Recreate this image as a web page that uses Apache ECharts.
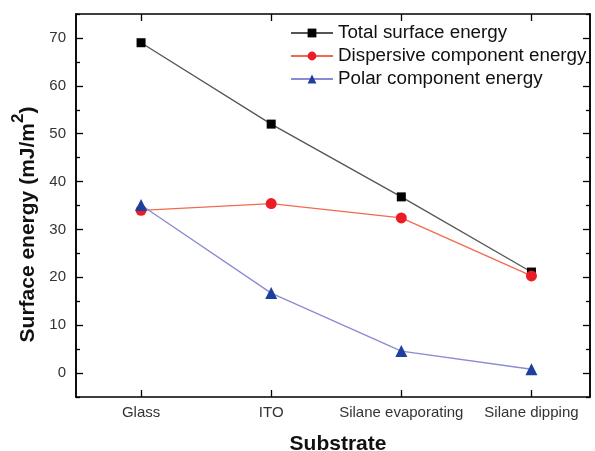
<!DOCTYPE html>
<html><head><meta charset="utf-8">
<script src="https://cdn.jsdelivr.net/npm/echarts@6/dist/echarts.min.js"></script>
<style>html,body{margin:0;padding:0;background:#fff}#c{width:595px;height:451px}</style>
</head><body><div id="c"></div>
<script>
var categories = ['Glass', 'ITO', 'Silane evaporating', 'Silane dipping'];
var totalEnergy = [69, 52, 36.8, 21.1];
var dispersiveEnergy = [34, 35.4, 32.4, 20.3];
var polarEnergy = [35.1, 16.7, 4.6, 0.8];
var yMajorTicks = [0, 10, 20, 30, 40, 50, 60, 70];
var yMinorTicks = [-5, 5, 15, 25, 35, 45, 55, 65, 75];
var seriesNames = ['Total surface energy', 'Dispersive component energy', 'Polar component energy'];

var catPos = categories.map(function (c, i) { return i + 1; });
function pairs(vals) { return vals.map(function (v, i) { return [catPos[i], v]; }); }

var font = 'Liberation Sans, Arial, sans-serif';
var axisLineStyle = { color: '#000', width: 1.5 };

function xAx(pos, showLabel) {
  return {
    type: 'value', position: pos, min: 0.5, max: 4.45,
    axisLine: { show: true, onZero: false, lineStyle: axisLineStyle },
    axisTick: { show: true, inside: true, length: 7, customValues: catPos, lineStyle: { color: '#000', width: 1.3 } },
    axisLabel: { show: showLabel, customValues: catPos, margin: 8, fontSize: 15, color: '#333', fontFamily: font,
      formatter: function (v) { return categories[Math.round(v) - 1] || ''; } },
    splitLine: { show: false },
    name: showLabel ? 'Substrate' : '', nameLocation: 'middle', nameGap: 37,
    nameTextStyle: { fontSize: 21, fontWeight: 'bold', color: '#111', fontFamily: font, padding: [0, 0, 0, 10] }
  };
}
function yAx(pos, ticks, len, showLabel, withName) {
  return {
    type: 'value', position: pos, min: -5, max: 75,
    axisLine: { show: true, onZero: false, lineStyle: axisLineStyle },
    axisTick: { show: true, inside: true, length: len, customValues: ticks, lineStyle: { color: '#000', width: 1.3 } },
    axisLabel: { show: showLabel, customValues: ticks, margin: 10, fontSize: 15, color: '#333', fontFamily: font },
    splitLine: { show: false },
    name: withName ? '{a|Surface energy (mJ/m}{s|2}{a|)}' : '',
    nameLocation: 'middle', nameGap: 23, nameRotate: 90,
    nameTextStyle: { padding: [0, 38, 0, 0],
      rich: { a: { fontSize: 21, fontWeight: 'bold', color: '#111', fontFamily: font, verticalAlign: 'bottom', lineHeight: 30 },
              s: { fontSize: 17, fontWeight: 'bold', color: '#111', fontFamily: font, verticalAlign: 'bottom', lineHeight: 30, padding: [0, 0, 12, 0] } } }
  };
}

var chart = echarts.init(document.getElementById('c'), null, { renderer: 'canvas' });
chart.setOption({
  animation: false,
  backgroundColor: '#fff',
  grid: { left: 76, right: 5, top: 14, bottom: 54, containLabel: false, outerBoundsMode: 'none' },
  legend: {
    orient: 'vertical', left: 285, top: 18, itemWidth: 42, itemHeight: 11, itemGap: 3,
    textStyle: { fontSize: 18.8, color: '#111', fontFamily: font, lineHeight: 20 },
    data: seriesNames
  },
  xAxis: [xAx('bottom', true), xAx('top', false)],
  yAxis: [yAx('left', yMajorTicks, 7, true, true), yAx('left', yMinorTicks, 4, false, false),
          yAx('right', yMajorTicks, 7, false, false), yAx('right', yMinorTicks, 4, false, false)],
  series: [
    { name: seriesNames[0], type: 'line', data: pairs(totalEnergy), symbol: 'rect', symbolSize: 9,
      itemStyle: { color: '#000' }, lineStyle: { color: '#555', width: 1.3 } },
    { name: seriesNames[1], type: 'line', data: pairs(dispersiveEnergy), symbol: 'circle', symbolSize: 11,
      itemStyle: { color: '#ec1c24' }, lineStyle: { color: '#f26a4f', width: 1.3 } },
    { name: seriesNames[2], type: 'line', data: pairs(polarEnergy), symbol: 'triangle', symbolSize: 12,
      itemStyle: { color: '#1f3f9f' }, lineStyle: { color: '#8a8ad6', width: 1.3 } }
  ]
});
</script></body></html>
